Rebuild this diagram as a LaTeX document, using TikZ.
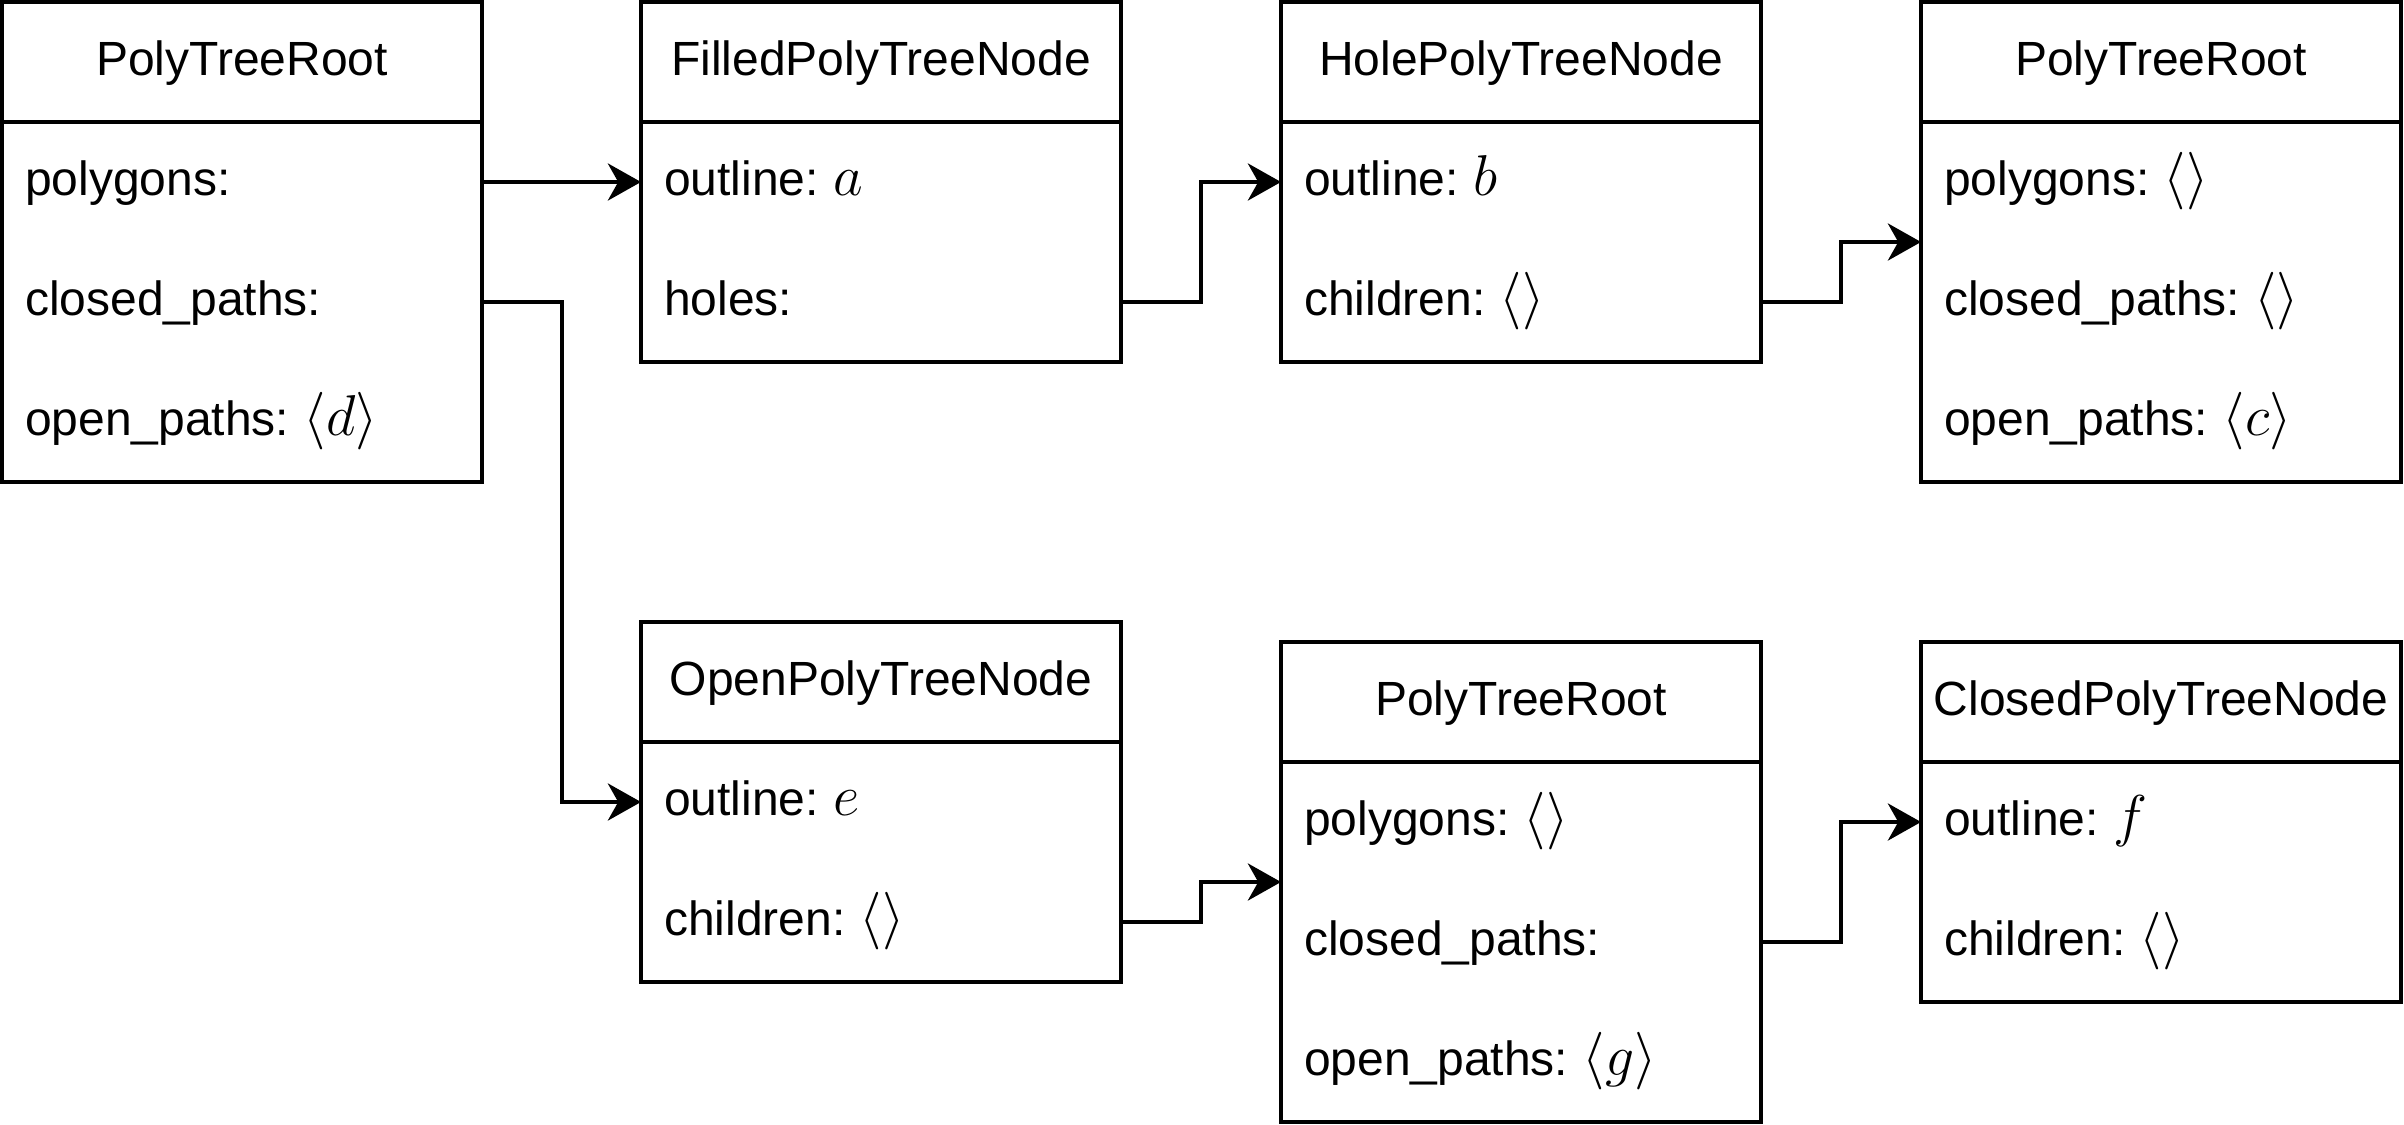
\documentclass[tikz,border=0pt]{standalone}
\usepackage{fontspec}
\setmainfont{Liberation Sans}
\usetikzlibrary{arrows.meta}
\newcommand{\mth}[1]{\kern3.6pt{\fontsize{13.8}{16}\selectfont$#1$}}
\tikzset{
  lw/.style={line width=0.85pt},
  boxo/.style={draw, lw, minimum width=120pt, anchor=north west, inner sep=0pt, outer sep=0pt},
  hdr/.style={minimum width=120pt, minimum height=30pt, anchor=north, inner sep=0pt, outer sep=0pt,
    text height=9pt, text depth=2.5pt, font=\fontsize{12}{14}\selectfont},
  fld/.style={minimum height=30pt, text width=108.5pt, inner xsep=5.75pt, inner ysep=0pt, outer sep=0pt,
    anchor=north, align=left, text height=9pt, text depth=2.5pt, font=\fontsize{12}{14}\selectfont},
  conn/.style={lw, -{Stealth[length=8.3pt, width=9.3pt, inset=2.6pt]}},
}
\begin{document}
\begin{tikzpicture}[x=0.25pt, y=-0.25pt]
\fill[white] (0,0) rectangle (2404,1124);
\useasboundingbox (0,0) rectangle (2404,1124);

% A: PolyTreeRoot (top left)
\node[boxo, minimum height=120pt] (A) at (2,2) {};
\node[hdr] (Ah) at (A.north) {PolyTreeRoot};
\draw[lw] (Ah.south west) -- (Ah.south east);
\node[fld] (A1) at (Ah.south) {polygons:};
\node[fld] (A2) at (A1.south) {closed\_paths:};
\node[fld] (A3) at (A2.south) {open\_paths:\mth{\langle d\rangle}};

% B: FilledPolyTreeNode
\node[boxo, minimum height=90pt] (B) at (641,2) {};
\node[hdr] (Bh) at (B.north) {FilledPolyTreeNode};
\draw[lw] (Bh.south west) -- (Bh.south east);
\node[fld] (B1) at (Bh.south) {outline:\mth{a}};
\node[fld] (B2) at (B1.south) {holes:};

% C: HolePolyTreeNode
\node[boxo, minimum height=90pt] (C) at (1281,2) {};
\node[hdr] (Ch) at (C.north) {HolePolyTreeNode};
\draw[lw] (Ch.south west) -- (Ch.south east);
\node[fld] (C1) at (Ch.south) {outline:\mth{b}};
\node[fld] (C2) at (C1.south) {children:\mth{\langle\rangle}};

% D: PolyTreeRoot (top right)
\node[boxo, minimum height=120pt] (D) at (1921,2) {};
\node[hdr] (Dh) at (D.north) {PolyTreeRoot};
\draw[lw] (Dh.south west) -- (Dh.south east);
\node[fld] (D1) at (Dh.south) {polygons:\mth{\langle\rangle}};
\node[fld] (D2) at (D1.south) {closed\_paths:\mth{\langle\rangle}};
\node[fld] (D3) at (D2.south) {open\_paths:\mth{\langle c\rangle}};

% E: OpenPolyTreeNode
\node[boxo, minimum height=90pt] (E) at (641,622) {};
\node[hdr] (Eh) at (E.north) {OpenPolyTreeNode};
\draw[lw] (Eh.south west) -- (Eh.south east);
\node[fld] (E1) at (Eh.south) {outline:\mth{e}};
\node[fld] (E2) at (E1.south) {children:\mth{\langle\rangle}};

% F: PolyTreeRoot (bottom middle)
\node[boxo, minimum height=120pt] (F) at (1281,642) {};
\node[hdr] (Fh) at (F.north) {PolyTreeRoot};
\draw[lw] (Fh.south west) -- (Fh.south east);
\node[fld] (F1) at (Fh.south) {polygons:\mth{\langle\rangle}};
\node[fld] (F2) at (F1.south) {closed\_paths:};
\node[fld] (F3) at (F2.south) {open\_paths:\mth{\langle g\rangle}};

% G: ClosedPolyTreeNode
\node[boxo, minimum height=90pt] (G) at (1921,642) {};
\node[hdr] (Gh) at (G.north) {ClosedPolyTreeNode};
\draw[lw] (Gh.south west) -- (Gh.south east);
\node[fld] (G1) at (Gh.south) {outline:\mth{f}};
\node[fld] (G2) at (G1.south) {children:\mth{\langle\rangle}};

% connectors
\draw[conn] (A1.east) -- (B1.west);
\draw[conn] (A2.east) -- ++(80,0) |- (E1.west);
\draw[conn] (B2.east) -- ++(80,0) |- (C1.west);
\draw[conn] (C2.east) -- ++(80,0) |- (D.west);
\draw[conn] (E2.east) -- ++(80,0) |- (F.west);
\draw[conn] (F2.east) -- ++(80,0) |- (G1.west);
\end{tikzpicture}
\end{document}
